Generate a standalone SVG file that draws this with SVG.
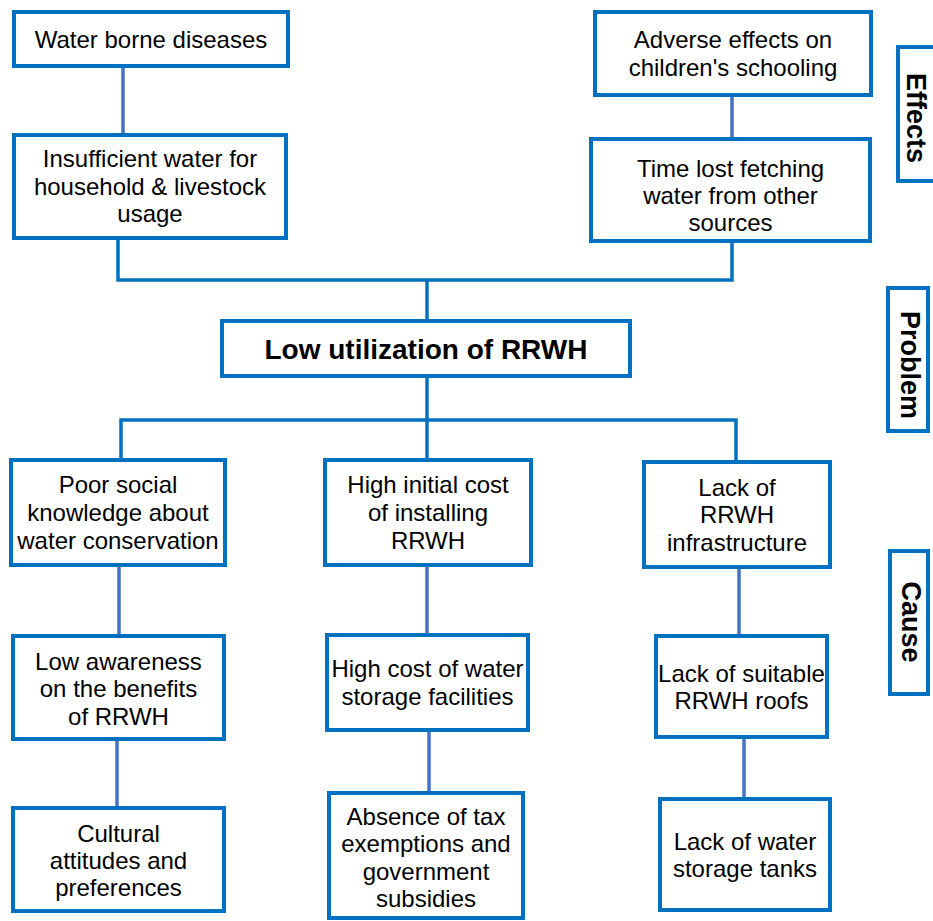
<svg xmlns="http://www.w3.org/2000/svg" width="933" height="921" viewBox="0 0 933 921">
  <style>
    .box { fill: #ffffff; stroke: #0070C0; stroke-width: 4; }
    .tree { fill: none; stroke: #0070C0; stroke-width: 3.5; }
    .link { fill: none; stroke: #4472C4; stroke-width: 3.5; }
    text { font-family: "Liberation Sans", Arial, sans-serif; fill: #000000; }
    .t { font-size: 24px; text-anchor: middle; }
    .main { font-size: 28px; font-weight: bold; text-anchor: middle; }
    .side { font-size: 27px; font-weight: bold; text-anchor: middle; }
  </style>
  <rect width="933" height="921" fill="#ffffff"/>

  <!-- connectors -->
  <g id="connectors">
    <path class="tree" d="M118,240 V280 H732 V243"/>
    <path class="tree" d="M427,280 V320"/>
    <path class="tree" d="M427,377 V420"/>
    <path class="tree" d="M121,459 V420 H736 V461"/>
    <path class="tree" d="M427,420 V459"/>
    <path class="link" d="M123,68 V134"/>
    <path class="link" d="M732,97 V138"/>
    <path class="link" d="M119,567 V635"/>
    <path class="link" d="M117,741 V807"/>
    <path class="link" d="M427,567 V634"/>
    <path class="link" d="M429,732 V792"/>
    <path class="link" d="M739,569 V635"/>
    <path class="link" d="M744,739 V798"/>
  </g>

  <!-- effects -->
  <g id="water-borne-diseases">
    <rect class="box" x="14" y="12" width="274" height="54"/>
    <text class="t" x="151" y="48">Water borne diseases</text>
  </g>
  <g id="insufficient-water">
    <rect class="box" x="14" y="135" width="272" height="103"/>
    <text class="t" x="150" y="167">Insufficient water for</text>
    <text class="t" x="150" y="194.5">household &amp; livestock</text>
    <text class="t" x="150" y="222">usage</text>
  </g>
  <g id="adverse-effects">
    <rect class="box" x="595" y="12" width="276" height="83"/>
    <text class="t" x="733" y="48">Adverse effects on</text>
    <text class="t" x="733" y="76">children's schooling</text>
  </g>
  <g id="time-lost">
    <rect class="box" x="591" y="139" width="279" height="102"/>
    <text class="t" x="730.5" y="177">Time lost fetching</text>
    <text class="t" x="730.5" y="204">water from other</text>
    <text class="t" x="730.5" y="231">sources</text>
  </g>

  <!-- core problem -->
  <g id="low-utilization">
    <rect class="box" x="222" y="321" width="408" height="55"/>
    <text class="main" x="426" y="359">Low utilization of RRWH</text>
  </g>

  <!-- causes -->
  <g id="poor-social-knowledge">
    <rect class="box" x="11" y="460" width="214" height="105"/>
    <text class="t" x="118" y="493">Poor social</text>
    <text class="t" x="118" y="521">knowledge about</text>
    <text class="t" x="118" y="549">water conservation</text>
  </g>
  <g id="low-awareness">
    <rect class="box" x="13" y="636" width="211" height="103"/>
    <text class="t" x="118.5" y="670">Low awareness</text>
    <text class="t" x="118.5" y="697">on the benefits</text>
    <text class="t" x="118.5" y="725">of RRWH</text>
  </g>
  <g id="cultural-attitudes">
    <rect class="box" x="13" y="808" width="211" height="103"/>
    <text class="t" x="118.5" y="842">Cultural</text>
    <text class="t" x="118.5" y="869">attitudes and</text>
    <text class="t" x="118.5" y="896">preferences</text>
  </g>
  <g id="high-initial-cost">
    <rect class="box" x="325" y="460" width="206" height="105"/>
    <text class="t" x="428" y="493">High initial cost</text>
    <text class="t" x="428" y="521">of installing</text>
    <text class="t" x="428" y="549">RRWH</text>
  </g>
  <g id="high-storage-cost">
    <rect class="box" x="327" y="635" width="201" height="95"/>
    <text class="t" x="427.5" y="677">High cost of water</text>
    <text class="t" x="427.5" y="705">storage facilities</text>
  </g>
  <g id="absence-of-subsidies">
    <rect class="box" x="329" y="793" width="194" height="125"/>
    <text class="t" x="426" y="825">Absence of tax</text>
    <text class="t" x="426" y="852">exemptions and</text>
    <text class="t" x="426" y="880">government</text>
    <text class="t" x="426" y="907">subsidies</text>
  </g>
  <g id="lack-of-infrastructure">
    <rect class="box" x="644" y="462" width="186" height="105"/>
    <text class="t" x="737" y="496">Lack of</text>
    <text class="t" x="737" y="523">RRWH</text>
    <text class="t" x="737" y="551">infrastructure</text>
  </g>
  <g id="lack-of-roofs">
    <rect class="box" x="656" y="636" width="171" height="101"/>
    <text class="t" x="741.5" y="682">Lack of suitable</text>
    <text class="t" x="741.5" y="709">RRWH roofs</text>
  </g>
  <g id="lack-of-tanks">
    <rect class="box" x="660" y="799" width="170" height="111"/>
    <text class="t" x="745" y="850">Lack of water</text>
    <text class="t" x="745" y="877">storage tanks</text>
  </g>

  <!-- level labels -->
  <g id="label-effects">
    <rect class="box" x="898" y="47" width="42" height="134"/>
    <text class="side" transform="translate(907,118) rotate(90)">Effects</text>
  </g>
  <g id="label-problem">
    <rect class="box" x="888" y="288" width="40" height="143"/>
    <text class="side" transform="translate(901,365) rotate(90)">Problem</text>
  </g>
  <g id="label-cause">
    <rect class="box" x="890" y="551" width="38" height="143"/>
    <text class="side" transform="translate(902,622) rotate(90)">Cause</text>
  </g>
</svg>
